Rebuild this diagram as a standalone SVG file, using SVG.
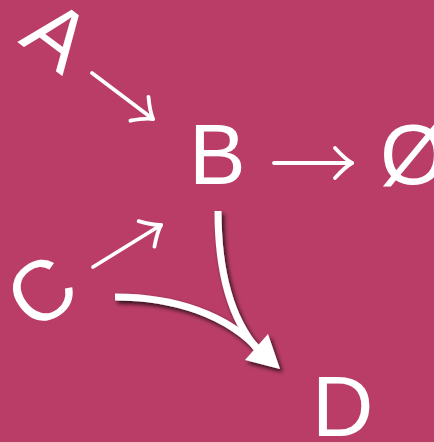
<svg xmlns="http://www.w3.org/2000/svg" width="434" height="442" viewBox="0 0 434 442">
  <style>
    .lbl { font-family: "Liberation Sans", Arial, sans-serif; font-size: 85px; fill: #ffffff; }
    .thin { fill: none; stroke: #ffffff; stroke-width: 3.8; stroke-linecap: round; marker-end: url(#chev); }
    .thick { fill: none; stroke: #ffffff; stroke-width: 7; stroke-linecap: butt; }
  </style>
  <defs>
    <marker id="chev" markerUnits="userSpaceOnUse" viewBox="-20 -18 24 36" refX="0" refY="0" markerWidth="24" markerHeight="36" orient="auto" overflow="visible">
      <path d="M-17,-15 Q-7,-4 0,0 Q-7,4 -17,15" fill="none" stroke="#ffffff" stroke-width="3.8" stroke-linecap="round" stroke-linejoin="round"/>
    </marker>
    <filter id="shadow" x="-20%" y="-20%" width="150%" height="150%">
      <feDropShadow dx="2.5" dy="3" stdDeviation="2" flood-color="#000000" flood-opacity="0.75"/>
    </filter>
  </defs>
  <rect x="0" y="0" width="434" height="442" fill="#B93D67"/>

  <g id="connectors">
    <path class="thin" d="M92,73 L153,119"/>
    <path class="thin" d="M93,267 L161,225"/>
    <path class="thin" d="M274,163 L352,163"/>
    <g filter="url(#shadow)">
      <path class="thick" d="M218,211 C218,268 230,318 258,350"/>
      <path class="thick" d="M115,297 C175,297 228,315 260,351"/>
      <polygon points="280,369 245,360 268,334" fill="#ffffff"/>
    </g>
  </g>

  <g id="node-A">
    <text class="lbl" text-anchor="middle" transform="translate(40,59) rotate(37)">A</text>
  </g>
  <g id="node-B">
    <text class="lbl" x="189" y="184">B</text>
  </g>
  <g id="node-empty">
    <text class="lbl" x="380" y="184">Ø</text>
  </g>
  <g id="node-C">
    <text class="lbl" text-anchor="middle" transform="translate(41,291) rotate(-36)" y="30">C</text>
  </g>
  <g id="node-D">
    <text class="lbl" x="312" y="436">D</text>
  </g>
</svg>
